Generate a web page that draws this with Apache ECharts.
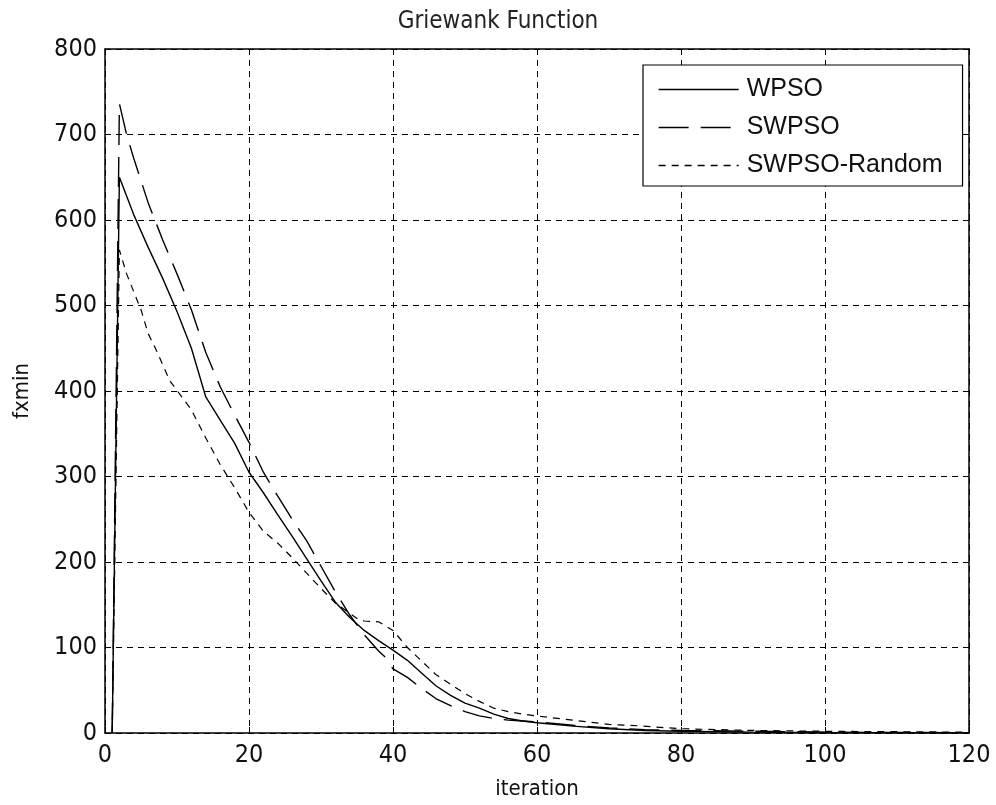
<!DOCTYPE html>
<html>
<head>
<meta charset="utf-8">
<script src="https://cdn.jsdelivr.net/npm/echarts@6/dist/echarts.min.js"></script>
<style>
html,body{margin:0;padding:0;background:#fff;}
#chart{width:996px;height:805px;}
</style>
</head>
<body>
<div id="chart"></div>
<script>
// ---- data ----
var seriesNames = ['WPSO', 'SWPSO', 'SWPSO-Random'];
var xTicks = [0, 20, 40, 60, 80, 100, 120];
var yTicks = [0, 100, 200, 300, 400, 500, 600, 700, 800];

var wpso = [[1,0],[2,650],[4,606],[6,568],[8,532],[10,493],[12,450],[14,393],[16,366],[18,339],[20,305],[22,281],[24,255],[26,230],[28,204],[30,178],[32,153],[34,135],[36,120],[38,108],[40,97],[42,85],[44,70],[46,55],[48,44],[50,35],[52,29],[54,22],[56,17],[58,14],[60,12],[65,8],[70,5],[75,3],[80,2],[90,1],[100,0.5],[120,0.2]];
var swpso = [[1,0],[2,736],[3,700],[4,672],[6,620],[8,577],[10,537],[12,495],[14,445],[16,405],[18,372],[20,340],[22,305],[24,277],[26,250],[28,225],[30,195],[32,165],[34,138],[36,115],[38,96],[39,88],[40,75],[42,65],[44,52],[46,40],[48,32],[50,25],[52,20],[54,17],[56,15],[58,14],[60,13],[65,9],[70,6],[75,4],[80,3],[90,2],[100,1],[120,0.3]];
var swpsoRandom = [[1,0],[2,565],[3,537],[5,495],[6,467],[7,450],[9,412],[12,378],[14,345],[16,314],[18,287],[20,258],[22,236],[24,222],[26,205],[28,187],[30,169],[32,152],[34,140],[35,134],[36,131],[38,130],[39,125],[40,120],[42,100],[44,84],[46,68],[48,57],[50,46],[52,37],[54,29],[56,25],[58,22],[60,20],[65,15],[70,10],[73,9],[80,5],[90,3],[100,2],[120,1]];

var narrow = "'Liberation Sans Narrow','DejaVu Sans Condensed','Liberation Sans',Arial,sans-serif";
var regular = "'Liberation Sans',Arial,sans-serif";

var chart = echarts.init(document.getElementById('chart'), null, {renderer: 'canvas'});

var splitDash = {show: true, lineStyle: {color: '#000', type: [6, 5], width: 1}};
function xAx(pos, labels) {
  return {
    type: 'value', position: pos, min: xTicks[0], max: xTicks[xTicks.length - 1], interval: 20,
    axisLine: {show: true, onZero: false, lineStyle: {color: '#000', width: 1.5}},
    axisTick: {show: true, inside: true, length: 6, lineStyle: {color: '#000'}},
    axisLabel: {show: labels, color: '#111', fontSize: 25, fontFamily: narrow, margin: 10},
    splitLine: labels ? splitDash : {show: false},
    name: labels ? 'iteration' : '', nameLocation: 'middle', nameGap: 45,
    nameTextStyle: {color: '#111', fontSize: 22, fontFamily: narrow}
  };
}
function yAx(pos, labels) {
  return {
    type: 'value', position: pos, min: yTicks[0], max: yTicks[yTicks.length - 1], interval: 100,
    axisLine: {show: true, onZero: false, lineStyle: {color: '#000', width: 1.5}},
    axisTick: {show: true, inside: true, length: 6, lineStyle: {color: '#000'}},
    axisLabel: {show: labels, color: '#111', fontSize: 25, fontFamily: narrow, margin: 8},
    splitLine: labels ? splitDash : {show: false},
    name: labels ? 'fxmin' : '', nameLocation: 'middle', nameGap: 72, nameRotate: 90,
    nameTextStyle: {color: '#111', fontSize: 22, fontFamily: narrow}
  };
}

var lineBase = {type: 'line', symbol: 'none', showSymbol: false, smooth: false, xAxisIndex: 0, yAxisIndex: 0, z: 3};
var dashes = ['solid', [30, 12], [7, 6]];

chart.setOption({
  animation: false,
  backgroundColor: '#fff',
  color: ['#000', '#000', '#000'],
  title: {
    text: 'Griewank Function', left: 'center', top: 5,
    textStyle: {color: '#222', fontSize: 24, fontWeight: 'normal', fontFamily: narrow}
  },
  grid: {left: 105, right: 27, top: 49, bottom: 70, containLabel: false, show: false},
  legend: {
    show: true, orient: 'vertical', left: 643, top: 65,
    data: seriesNames.map(function (n, i) {
      return {name: n, itemStyle: {opacity: 0, borderWidth: 0}, lineStyle: {type: dashes[i], width: 1.3, color: '#000'}};
    }),
    backgroundColor: '#fff', borderColor: '#000', borderWidth: 1.2,
    padding: [12, 20, 8, 15], itemGap: 13,
    itemWidth: 80, itemHeight: 25,
    textStyle: {color: '#111', fontSize: 25, fontFamily: regular, padding: [0, 0, 0, 3]},
    selectedMode: false
  },
  xAxis: [xAx('bottom', true), xAx('top', false)],
  yAxis: [yAx('left', true), yAx('right', false)],
  series: [
    Object.assign({}, lineBase, {name: seriesNames[0], data: wpso, lineStyle: {color: '#000', width: 1.4, type: dashes[0]}}),
    Object.assign({}, lineBase, {name: seriesNames[1], data: swpso, lineStyle: {color: '#000', width: 1.4, type: dashes[1]}}),
    Object.assign({}, lineBase, {name: seriesNames[2], data: swpsoRandom, lineStyle: {color: '#000', width: 1.2, type: dashes[2]}})
  ]
});
</script>
</body>
</html>
